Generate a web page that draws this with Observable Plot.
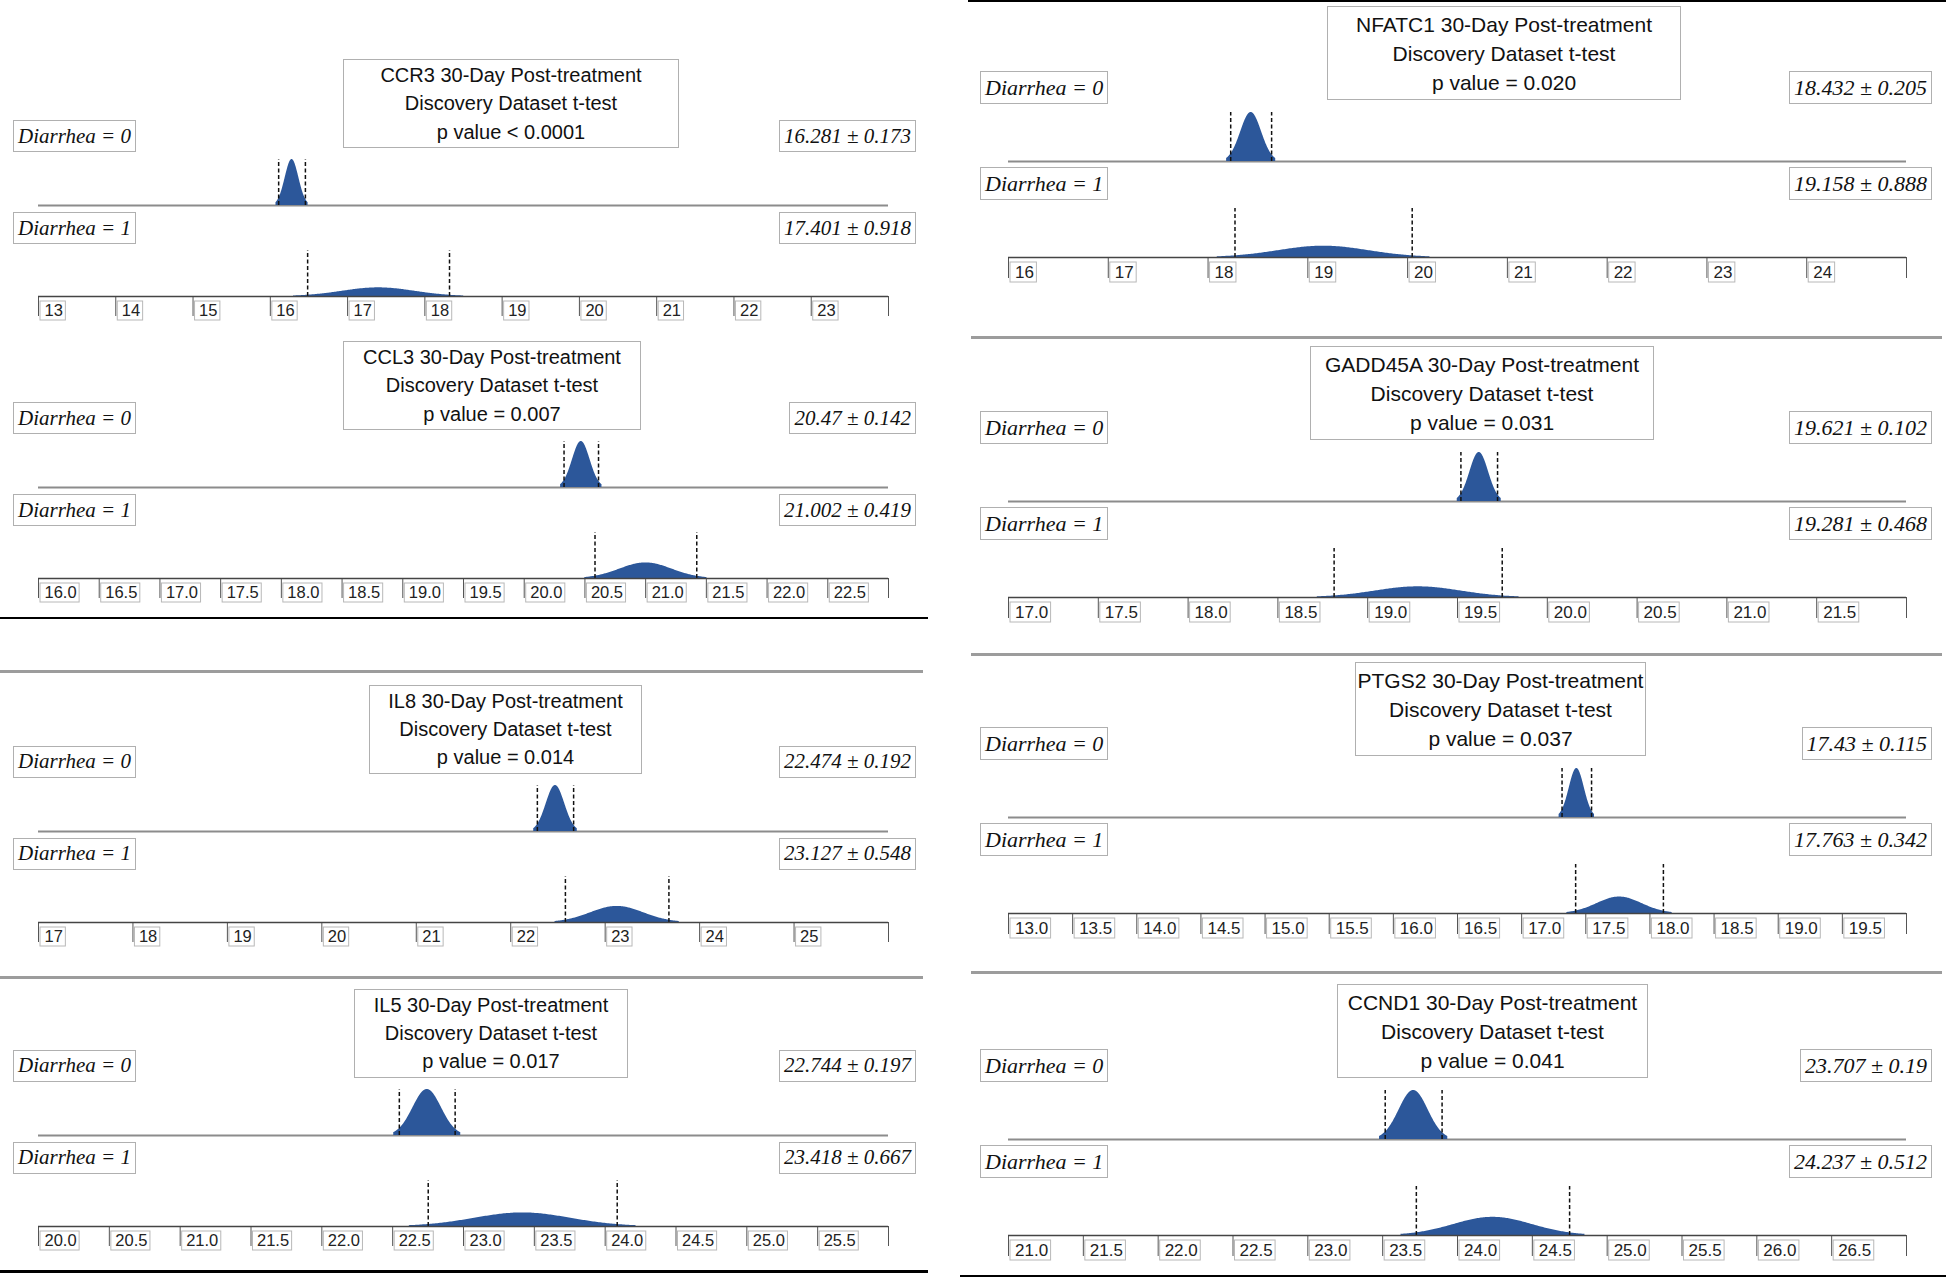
<!DOCTYPE html>
<html><head><meta charset="utf-8">
<script src="https://cdn.jsdelivr.net/npm/d3@7"></script>
<script src="https://cdn.jsdelivr.net/npm/@observablehq/plot@0.6"></script>
<style>
body{margin:0;background:#fff;}
#root{position:relative;width:1946px;height:1277px;overflow:hidden;background:#fff;}
.box{position:absolute;box-sizing:border-box;border:1.5px solid #b0b0b0;background:#fff;display:flex;align-items:center;justify-content:center;white-space:nowrap;color:#111;}
.lab{font-family:"Liberation Serif","Times New Roman",serif;font-style:italic;padding:0 4px;}
.title{font-family:"Liberation Sans",Arial,sans-serif;flex-direction:column;}
.sep{position:absolute;}
</style></head><body><div id="root"></div>
<script>
// ---------- data ----------
const genes   = ["CCR3","CCL3","IL8","IL5","NFATC1","GADD45A","PTGS2","CCND1"];
const pLabels = ["p value < 0.0001","p value = 0.007","p value = 0.014","p value = 0.017",
                 "p value = 0.020","p value = 0.031","p value = 0.037","p value = 0.041"];
const mean0 = [16.281, 20.47, 22.474, 22.744, 18.432, 19.621, 17.43, 23.707];
const err0  = [0.173, 0.142, 0.192, 0.197, 0.205, 0.102, 0.115, 0.19];
const mean1 = [17.401, 21.002, 23.127, 23.418, 19.158, 19.281, 17.763, 24.237];
const err1  = [0.918, 0.419, 0.548, 0.667, 0.888, 0.468, 0.342, 0.512];
const groups = ["Diarrhea = 0", "Diarrhea = 1"];
const tickLabels = [
  ["13","14","15","16","17","18","19","20","21","22","23"],
  ["16.0","16.5","17.0","17.5","18.0","18.5","19.0","19.5","20.0","20.5","21.0","21.5","22.0","22.5"],
  ["17","18","19","20","21","22","23","24","25"],
  ["20.0","20.5","21.0","21.5","22.0","22.5","23.0","23.5","24.0","24.5","25.0","25.5"],
  ["16","17","18","19","20","21","22","23","24"],
  ["17.0","17.5","18.0","18.5","19.0","19.5","20.0","20.5","21.0","21.5"],
  ["13.0","13.5","14.0","14.5","15.0","15.5","16.0","16.5","17.0","17.5","18.0","18.5","19.0","19.5"],
  ["21.0","21.5","22.0","22.5","23.0","23.5","24.0","24.5","25.0","25.5","26.0","26.5"]
];
const axisMin = [13, 16, 17, 20, 16, 17, 13, 21];
const axisMax = [24, 23, 26, 26, 25, 22, 20, 27];

// ---------- layout ----------
const cols = [
  {x0:0, w:960, xa:38, xb:888, labL:13, valR:916, tTop:-237, tH:89, tFont:20, tLH:28.3,
   d0:-176, d1:-84, lH:32, lFont:21, base:91, band:46, tk:{size:20, pad:8, dx:6, top:5, bot:24, fs:16.5}},
  {x0:960, w:986, xa:1008, xb:1906, labL:980, valR:1932, tTop:-251, tH:94, tFont:21, tLH:29,
   d0:-186, d1:-90, lH:33, lFont:22, base:96, band:49, tk:{size:21, pad:8.5, dx:6.5, top:5, bot:25, fs:17}}
];
const panelCol = [0,0,0,0,1,1,1,1];
const axisY = [296, 578, 921.5, 1225.5, 257, 597, 913, 1235];
const titleX = [[343,679],[343,641],[369,642],[354,628],[1327,1681],[1310,1654],[1355,1646],[1337,1648]];
const BLUE = "#2c579a";
const root = document.getElementById("root");

function bell(m, e, peak) {
  const sd = e / 1.96, lo = m - 1.2 * e, hi = m + 1.2 * e, n = 160;
  return d3.range(n + 1).map(k => {
    const x = lo + (hi - lo) * k / n;
    return {x, y: peak * Math.exp(-0.5 * ((x - m) / sd) ** 2)};
  });
}
const canvas = document.createElement("canvas");
const ctx = canvas.getContext("2d");
const TICKFONT = '"Liberation Sans Narrow","Liberation Sans",Arial,sans-serif';

function div(cls, css, html) {
  const d = document.createElement("div");
  d.className = cls;
  Object.assign(d.style, css);
  if (html != null) d.innerHTML = html;
  root.appendChild(d);
  return d;
}

for (let i = 0; i < genes.length; i++) {
  const c = cols[panelCol[i]];
  const A = axisY[i];
  const svgTop = 150, H = 185;
  const labels = tickLabels[i];
  const lab = new Map(labels.map(s => [+s, s]));
  const ticks = [...labels.map(Number), axisMax[i]];
  ctx.font = `${c.tk.fs}px ${TICKFONT}`;
  const W = d3.max(labels, s => ctx.measureText(s).width);
  const m0 = mean0[i], e0 = err0[i], m1 = mean1[i], e1 = err1[i];
  const svg = Plot.plot({
    width: c.w, height: H,
    marginLeft: c.xa - c.x0, marginRight: c.x0 + c.w - c.xb,
    marginTop: svgTop - c.band, marginBottom: H - svgTop,
    x: {domain: [axisMin[i], axisMax[i]]},
    y: {domain: [0, 1], axis: null},
    style: {position: "absolute", left: c.x0 + "px", top: (A - svgTop) + "px", overflow: "visible",
            background: "transparent", fontFamily: TICKFONT, fontSize: c.tk.fs + "px", color: "#222"},
    marks: [
      Plot.ruleY([0], {dy: -c.base, stroke: "#8c8c8c", strokeWidth: 2}),
      Plot.areaY(bell(m0, e0, 1), {x: "x", y: "y", dy: -c.base, fill: BLUE}),
      Plot.ruleX([m0 - e0, m0 + e0], {y1: 0, y2: 1, dy: -c.base, stroke: "#111", strokeWidth: 1.5, strokeDasharray: "4,2.5"}),
      Plot.areaY(bell(m1, e1, e0 / e1), {x: "x", y: "y", fill: BLUE}),
      Plot.ruleX([m1 - e1, m1 + e1], {y1: 0, y2: 1, stroke: "#111", strokeWidth: 1.5, strokeDasharray: "4,2.5"}),
      Plot.rect(labels.map(Number), {x1: d => d, x2: d => d, y1: 0, y2: 0,
        insetLeft: 2, insetRight: -(W + c.tk.dx + 3), insetTop: c.tk.top, insetBottom: -c.tk.bot,
        fill: "#fff", stroke: "#b8b8b8", strokeWidth: 1}),
      Plot.axisX({ticks, tickSize: c.tk.size, tickFormat: () => "", label: null, stroke: "#555"}),
      Plot.axisX({ticks, tickSize: 0, tickPadding: c.tk.pad, textAnchor: "start", dx: c.tk.dx,
        tickFormat: d => lab.get(d) ?? "", label: null, fill: "#222"}),
      Plot.ruleY([0], {stroke: "#444", strokeWidth: 1.5})
    ]
  });
  root.appendChild(svg);

  // title box
  const [tx1, tx2] = titleX[i];
  div("box title", {left: tx1 + "px", top: (A + c.tTop) + "px", width: (tx2 - tx1) + "px", height: c.tH + "px",
    fontSize: c.tFont + "px", lineHeight: c.tLH + "px"},
    `<div>${genes[i]} 30-Day Post-treatment</div><div>Discovery Dataset t-test</div><div>${pLabels[i]}</div>`);
  // group labels and value labels
  [[c.d0, groups[0], `${m0} ± ${e0}`], [c.d1, groups[1], `${m1} ± ${e1}`]].forEach(([off, g, v]) => {
    div("box lab", {left: c.labL + "px", top: (A + off) + "px", height: c.lH + "px", fontSize: c.lFont + "px"}, g);
    div("box lab", {right: (1946 - c.valR) + "px", top: (A + off) + "px", height: c.lH + "px", fontSize: c.lFont + "px"}, v);
  });
}

// separators
const seps = [
  {y: 618, x1: 0, x2: 928, c: "#000", t: 2.5},
  {y: 671.5, x1: 0, x2: 923, c: "#9c9c9c", t: 3},
  {y: 977, x1: 0, x2: 923, c: "#9c9c9c", t: 3},
  {y: 1271.5, x1: 0, x2: 928, c: "#000", t: 2.5},
  {y: 1, x1: 968, x2: 1946, c: "#000", t: 2},
  {y: 337, x1: 971, x2: 1942, c: "#9c9c9c", t: 3},
  {y: 654.5, x1: 971, x2: 1942, c: "#9c9c9c", t: 3},
  {y: 972, x1: 971, x2: 1942, c: "#9c9c9c", t: 3},
  {y: 1276, x1: 960, x2: 1946, c: "#000", t: 2.5}
];
seps.forEach(s => div("sep", {left: s.x1 + "px", top: (s.y - s.t / 2) + "px", width: (s.x2 - s.x1) + "px",
  height: s.t + "px", background: s.c}));
</script></body></html>
